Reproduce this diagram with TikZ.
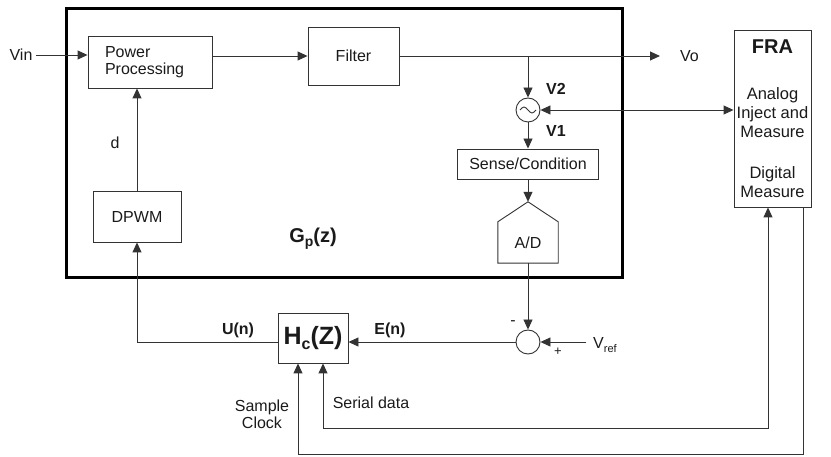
\documentclass[tikz,border=0pt]{standalone}
\usepackage{fontspec}
\setmainfont{Liberation Sans}
\usepackage{tikz}
\usetikzlibrary{arrows.meta,positioning,calc}
\usepackage{xcolor}
\definecolor{lineink}{HTML}{333333}
\definecolor{textink}{HTML}{1A1A1A}
\tikzset{
  blockbox/.style={
    draw=lineink,
    line width=0.9pt,
    fill=white,
    align=center,
    text=textink,
    inner sep=0pt
  },
  plantframe/.style={
    draw=black,
    line width=3pt
  },
  sumnode/.style={
    circle,
    draw=lineink,
    line width=0.9pt,
    minimum size=24pt,
    inner sep=0pt
  },
  sigtext/.style={
    text=textink,
    font=\fontsize{16}{19}\selectfont
  },
  sigbold/.style={
    text=textink,
    font=\fontsize{16}{19}\selectfont\bfseries
  },
  arrow/.style={
    -{Triangle[length=10pt,width=9pt]},
    line width=0.9pt,
    draw=lineink
  },
  dblarrow/.style={
    {Triangle[length=10pt,width=9pt]}-{Triangle[length=10pt,width=9pt]},
    line width=0.9pt,
    draw=lineink
  },
  wire/.style={
    line width=0.9pt,
    draw=lineink
  }
}

\begin{document}
\begin{tikzpicture}[x=1pt,y=-1pt,font=\fontsize{16}{19}\selectfont]
\useasboundingbox (0,0) rectangle (831,457);
% plant G_p(z)
\draw[plantframe] (66,9) rectangle (622,278);
\node[blockbox, minimum width=124pt, minimum height=52pt, text width=90pt, align=left, inner xsep=17pt] (pp) at (150,62) {Power\\[-2pt]Processing};
\node[blockbox, minimum width=91pt, minimum height=58pt] (filter) at (353.5,56) {Filter};
\node[blockbox, minimum width=88pt, minimum height=51pt] (dpwm) at (137,216.5) {DPWM};
\node[sumnode] (inj) at (528,110) {};
\draw[wire] ($(inj.center)+(-8,0)$) sin ++(4,-3) cos ++(4,3) sin ++(4,3) cos ++(4,-3);
\node[blockbox, minimum width=141pt, minimum height=30pt] (sense) at (528,164) {Sense/Condition};
\node[minimum width=60pt, minimum height=41pt, inner sep=0pt, text=textink] (ad) at (528,242.5) {A/D};
\coordinate (adtop) at ([yshift=20pt]ad.north);
\draw[wire] (ad.south west) -- (ad.north west) -- (adtop) -- (ad.north east) -- (ad.south east) -- cycle;
\node[sigtext] (vin) at (21,55) {Vin};
\node[sigtext, anchor=west, inner xsep=0pt] (vo) at (680,56) {Vo};
\node[sigtext] (dlabel) at (115,143) {d};
\node[sigbold] (vtwo) at (556,89) {V2};
\node[sigbold] (vone) at (556,131) {V1};
\node[text=textink, font=\fontsize{20}{24}\selectfont\bfseries] (gp) at (313,239) {G\raisebox{-4pt}{\fontsize{14}{14}\selectfont p}(z)};
% controller H_c(z)
\node[sumnode] (sum) at (528,342) {};
\node[sigtext] (minus) at (513,323) {-};
\node[sigtext, font=\fontsize{13}{13}\selectfont] (plus) at (558,352) {+};
\node[sigtext, anchor=west, inner xsep=0pt] (vref) at (593,345) {V\raisebox{-4pt}{\fontsize{11}{11}\selectfont ref}};
\node[blockbox, minimum width=70pt, minimum height=50pt, font=\fontsize{25}{28}\selectfont\bfseries] (hc) at (313,338) {H\raisebox{-5pt}{\fontsize{16}{16}\selectfont c}(Z)};
\node[sigbold] (en) at (390,330) {E(n)};
\node[sigbold] (un) at (238,330) {U(n)};
\node[sigtext, align=center] (clk) at (262,414) {Sample\\[-2pt]Clock};
\node[sigtext] (serial) at (371,403) {Serial data};
% FRA
\node[blockbox, minimum width=77pt, minimum height=177pt] (fra) at (772.5,118.5) {};
\node[text=textink, font=\fontsize{20}{24}\selectfont\bfseries] (fratitle) at (772.5,47) {FRA};
\node[text=textink, font=\fontsize{16.5}{19}\selectfont, align=center] (fraanalog) at (772.5,113) {Analog\\Inject and\\Measure};
\node[text=textink, font=\fontsize{16.5}{19}\selectfont, align=center] (fradigital) at (772.5,182) {Digital\\Measure};
% connections
\coordinate (tap) at (inj.north |- filter.east);
\draw[arrow] (vin.east) -- (vin.east -| pp.west);
\draw[arrow] (pp.east |- filter.west) -- (filter.west);
\draw[arrow] (filter.east) -- ([xshift=-20pt]vo.west);
\draw[arrow] (tap) -- (inj.north);
\draw[dblarrow] (inj.east) -- (inj.east -| fra.west);
\draw[arrow] (inj.south) -- (sense.north);
\draw[arrow] (sense.south) -- (adtop);
\draw[arrow] (ad.south) -- (sum.north);
\draw[arrow] ([xshift=-7pt]vref.west |- sum.east) -- (sum.east);
\draw[arrow] (sum.west) -- (sum.west -| hc.east);
\draw[arrow] (sum.west -| hc.west) -| (dpwm.south);
\draw[arrow] (dpwm.north) -- (dpwm.north |- pp.south);
\draw[dblarrow] ([xshift=10pt]hc.south) -- ++(0,65) -| ([xshift=-4.5pt]fra.south);
\draw[arrow] ([xshift=30.5pt]fra.south) -- ++(0,247) -| ([xshift=-15pt]hc.south);
\end{tikzpicture}
\end{document}
